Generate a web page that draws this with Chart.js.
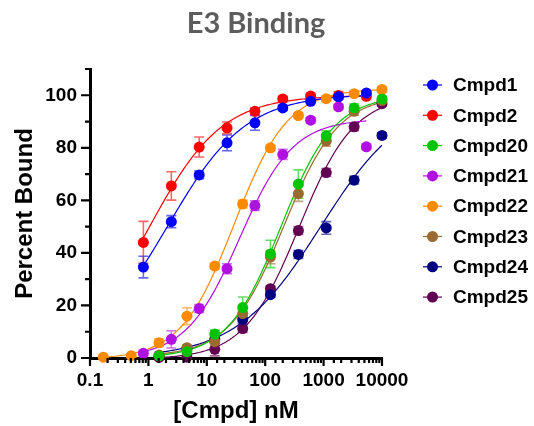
<!DOCTYPE html>
<html>
<head>
<meta charset="utf-8">
<script src="https://cdn.jsdelivr.net/npm/chart.js@4.4.1/dist/chart.umd.min.js"></script>
<style>
  html, body { margin: 0; padding: 0; background: #ffffff; }
  #wrap { width: 534px; height: 426px; }
</style>
</head>
<body>
<div id="wrap"><canvas id="chart" width="534" height="426"></canvas></div>
<script>
// Compound concentrations (nM), 3-fold dilution series
const concA = [0.169, 0.508, 1.52, 4.57, 13.7, 41.2, 123, 370, 1111, 3333, 10000];
const concB = [0.82, 2.47, 7.41, 22.2, 66.7, 200, 600, 1800, 5400];
const concC = [1.52, 4.57, 13.7, 41.2, 123, 370, 1111, 3333, 10000];

const compounds = ['Cmpd1', 'Cmpd2', 'Cmpd20', 'Cmpd21', 'Cmpd22', 'Cmpd23', 'Cmpd24', 'Cmpd25'];

// Percent bound (mean) and error per compound
const cmpd1Mean  = [34.6, 51.9, 69.7, 81.9, 89.5, 95.2, 97.7, 99.4, 100.9];
const cmpd1Err   = [4.1, 2.3, 1.5, 3.0, 2.8, 1.0, 0.8, 0.8, 0.8];
const cmpd2Mean  = [44.0, 65.5, 80.3, 87.6, 93.9, 98.6, 99.7, 99.9, 99.6];
const cmpd2Err   = [8.0, 5.4, 3.8, 2.2, 1.2, 1.0, 0.8, 1.5, 1.0];
const cmpd20Mean = [0.8, 2.4, 9.1, 19.2, 39.6, 66.2, 84.5, 95.2, 98.6];
const cmpd20Err  = [0.5, 1.0, 1.5, 4.0, 5.2, 5.4, 2.0, 1.5, 1.0];
const cmpd21Mean = [1.8, 7.1, 18.8, 34.0, 58.0, 77.5, 90.5, 95.6, 80.4];
const cmpd21Err  = [1.0, 3.3, 1.5, 1.9, 1.8, 1.9, 1.0, 1.0, 1.0];
const cmpd22Mean = [0.3, 0.9, 5.8, 15.9, 35.0, 58.6, 80.0, 92.3, 98.7, 100.6, 102.2];
const cmpd22Err  = [0.5, 0.5, 1.5, 3.2, 1.0, 1.5, 1.0, 1.0, 1.0, 1.0, 1.0];
const cmpd23Mean = [1.1, 3.9, 6.2, 16.9, 38.4, 62.6, 82.6, 93.9, 98.0];
const cmpd23Err  = [0.5, 1.0, 1.5, 2.0, 2.5, 3.0, 2.0, 1.5, 1.0];
const cmpd24Mean = [0.9, 3.5, 7.0, 14.7, 24.1, 39.4, 49.5, 67.7, 84.7];
const cmpd24Err  = [0.5, 1.0, 1.0, 1.5, 1.0, 1.5, 2.4, 1.5, 1.0];
const cmpd25Mean = [0.2, 0.3, 3.3, 11.2, 26.4, 48.5, 70.6, 88.0, 96.8];
const cmpd25Err  = [0.3, 0.5, 2.5, 1.5, 1.0, 1.5, 1.5, 1.5, 1.0];

// Four-parameter logistic fit results, same order as compounds
const fitBottom  = [0, 0, 0, 0, -0.5, 0.5, 0, -0.5];
const fitTop     = [100.5, 100, 100, 91, 102.5, 100, 100, 100];
const fitLogEC50 = [0.33, 0.02, 2.27, 1.56, 1.47, 2.32, 2.95, 2.58];
const fitHill    = [0.65, 0.7, 0.95, 0.95, 0.95, 0.93, 0.6, 0.92];

// Axis ticks
const yTickStep = 10;
const yMax = 110;
const xMin = 0.1;
const xMax = 10000;

const seriesConc = [concB, concB, concC, concB, concA, concC, concC, concC];
const seriesMean = [cmpd1Mean, cmpd2Mean, cmpd20Mean, cmpd21Mean, cmpd22Mean, cmpd23Mean, cmpd24Mean, cmpd25Mean];
const seriesErr  = [cmpd1Err, cmpd2Err, cmpd20Err, cmpd21Err, cmpd22Err, cmpd23Err, cmpd24Err, cmpd25Err];
const seriesColors = ['#0000FF', '#FF0000', '#00C400', '#B010E0', '#FF8A00', '#9A6B30', '#000080', '#620052'];

const LABEL_FONT = "'Liberation Sans', Arial, sans-serif";

function withAlpha(hex, a) {
  const n = parseInt(hex.slice(1), 16);
  return `rgba(${(n >> 16) & 255}, ${(n >> 8) & 255}, ${n & 255}, ${a})`;
}

// Sample the fitted sigmoid over the tested concentration range
function fitCurve(i) {
  const xs = seriesConc[i];
  const lo = Math.log10(xs[0]);
  const hi = Math.log10(xs[xs.length - 1]);
  const pts = [];
  const n = 120;
  for (let k = 0; k <= n; k++) {
    const lx = lo + (hi - lo) * k / n;
    const y = fitBottom[i] + (fitTop[i] - fitBottom[i]) /
      (1 + Math.pow(10, (fitLogEC50[i] - lx) * fitHill[i]));
    pts.push({ x: Math.pow(10, lx), y });
  }
  return pts;
}

const datasets = [];
compounds.forEach((name, i) => {
  datasets.push({
    label: name,
    data: seriesConc[i].map((x, j) => ({ x, y: seriesMean[i][j] })),
    errors: seriesErr[i],
    backgroundColor: seriesColors[i],
    borderColor: seriesColors[i],
    borderWidth: 0,
    pointRadius: 5.5,
    pointHoverRadius: 5.5,
    showLine: false,
    clip: false,
    order: 0
  });
});
compounds.forEach((name, i) => {
  datasets.push({
    label: name + ' fit',
    data: fitCurve(i),
    borderColor: seriesColors[i],
    borderWidth: 1.2,
    pointRadius: 0,
    showLine: true,
    fill: false,
    order: 1
  });
});

const isDecade = (v) => {
  const e = Math.log10(v);
  return Math.abs(e - Math.round(e)) < 1e-9;
};

// Error bars under the markers
const errorBars = {
  id: 'errorBars',
  beforeDatasetsDraw(chart) {
    const { ctx, scales: { x, y } } = chart;
    ctx.save();
    chart.data.datasets.forEach((ds) => {
      if (!ds.errors) return;
      ctx.strokeStyle = withAlpha(ds.borderColor, 0.6);
      ctx.lineWidth = 1.6;
      ds.data.forEach((p, j) => {
        const e = ds.errors[j];
        if (!e) return;
        const px = x.getPixelForValue(p.x);
        const t = y.getPixelForValue(p.y + e);
        const b = y.getPixelForValue(p.y - e);
        ctx.beginPath();
        ctx.moveTo(px, t); ctx.lineTo(px, b);
        ctx.moveTo(px - 5, t); ctx.lineTo(px + 5, t);
        ctx.moveTo(px - 5, b); ctx.lineTo(px + 5, b);
        ctx.stroke();
      });
    });
    ctx.restore();
  }
};

// Major and minor tick marks on both axes
const axisTicks = {
  id: 'axisTicks',
  afterDraw(chart) {
    const { ctx, chartArea, scales: { x, y } } = chart;
    ctx.save();
    ctx.strokeStyle = '#000';
    ctx.lineWidth = 2.2;
    ctx.beginPath();
    x.ticks.forEach((t) => {
      const px = x.getPixelForValue(t.value);
      const len = isDecade(t.value) ? 8 : 5;
      ctx.moveTo(px, chartArea.bottom);
      ctx.lineTo(px, chartArea.bottom + len);
    });
    y.ticks.forEach((t) => {
      const py = y.getPixelForValue(t.value);
      const len = t.value % 20 === 0 ? 9 : 5;
      ctx.moveTo(chartArea.left, py);
      ctx.lineTo(chartArea.left - len, py);
    });
    ctx.stroke();
    ctx.restore();
  }
};

// Title and legend
const titleLegend = {
  id: 'titleLegend',
  afterDraw(chart) {
    const { ctx } = chart;
    ctx.save();
    ctx.fillStyle = '#5c5c5c';
    ctx.font = "bold 29px Lato, 'Open Sans', sans-serif";
    ctx.textAlign = 'center';
    ctx.textBaseline = 'alphabetic';
    ctx.fillText('E3 Binding', 256, 33);

    ctx.font = `bold 19px ${LABEL_FONT}`;
    ctx.textAlign = 'left';
    ctx.textBaseline = 'middle';
    compounds.forEach((name, i) => {
      const cy = 85 + i * 30.3;
      const col = seriesColors[i];
      ctx.strokeStyle = col;
      ctx.lineWidth = 1.2;
      ctx.beginPath();
      ctx.moveTo(423, cy); ctx.lineTo(442, cy);
      ctx.stroke();
      ctx.fillStyle = col;
      ctx.beginPath();
      ctx.arc(432.5, cy, 5.5, 0, Math.PI * 2);
      ctx.fill();
      ctx.fillStyle = '#000';
      ctx.fillText(name, 453, cy + 1);
    });
    ctx.restore();
  }
};

new Chart(document.getElementById('chart'), {
  type: 'scatter',
  data: { datasets },
  options: {
    responsive: false,
    animation: false,
    devicePixelRatio: 1,
    layout: { padding: { top: 69, right: 152, bottom: 0, left: 0 } },
    plugins: {
      legend: { display: false },
      title: { display: false },
      tooltip: { enabled: false }
    },
    scales: {
      x: {
        type: 'logarithmic',
        min: xMin,
        max: xMax,
        border: { display: true, color: '#000', width: 3 },
        grid: { display: true, drawOnChartArea: false, drawTicks: true, tickLength: 8, tickColor: 'rgba(0,0,0,0)' },
        ticks: {
          color: '#000',
          font: { family: LABEL_FONT, size: 19, weight: 'bold' },
          padding: 3,
          maxRotation: 0,
          minRotation: 0,
          autoSkip: false,
          callback: (v) => isDecade(v) ? String(v) : ''
        },
        title: {
          display: true,
          text: '[Cmpd] nM',
          color: '#000',
          font: { family: LABEL_FONT, size: 24, weight: 'bold' },
          padding: { top: 0, bottom: 0 }
        },
        afterFit: (s) => { s.height = 68; }
      },
      y: {
        type: 'linear',
        min: 0,
        max: yMax,
        border: { display: true, color: '#000', width: 3 },
        grid: { display: true, drawOnChartArea: false, drawTicks: true, tickLength: 8, tickColor: 'rgba(0,0,0,0)' },
        ticks: {
          stepSize: yTickStep,
          color: '#000',
          font: { family: LABEL_FONT, size: 19, weight: 'bold' },
          padding: 5,
          callback: (v) => v % 20 === 0 ? String(v) : ''
        },
        title: {
          display: true,
          text: 'Percent Bound',
          color: '#000',
          font: { family: LABEL_FONT, size: 24, weight: 'bold' },
          padding: { top: 11, bottom: 0 }
        },
        afterFit: (s) => { s.width = 90; }
      }
    }
  },
  plugins: [errorBars, axisTicks, titleLegend]
});
</script>
</body>
</html>
